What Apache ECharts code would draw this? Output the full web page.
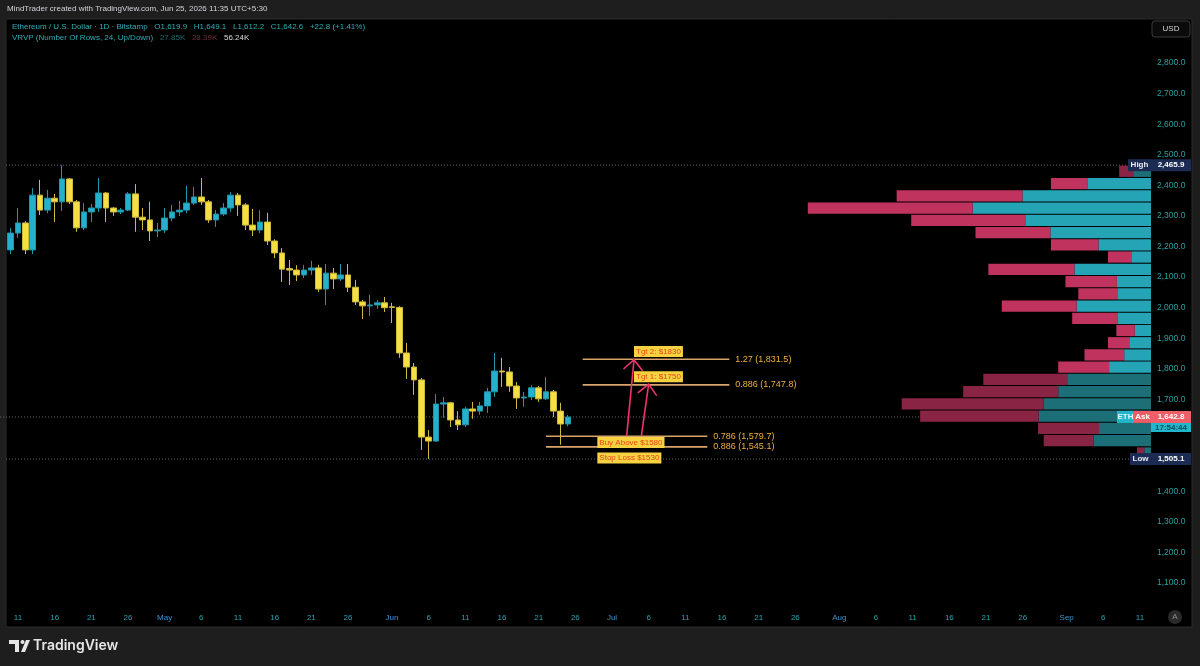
<!DOCTYPE html>
<html><head><meta charset="utf-8">
<script src="https://cdn.jsdelivr.net/npm/echarts@6/dist/echarts.min.js"></script>
<style>html,body{margin:0;padding:0;background:#1e1e1e;}#c{width:1200px;height:666px;}</style>
</head><body><div id="c"></div>
<script>
// ---------------- DATA ----------------
const startDate = [2026, 3, 10];       // Apr 10, 2026 (first candle)
const dayCount = 156;                  // visible days on the time scale (Apr 10 - Sep 12)
const labelDays = [1, 6, 11, 16, 21, 26];
const monthNames = ['Jan','Feb','Mar','Apr','May','Jun','Jul','Aug','Sep','Oct','Nov','Dec'];

const opens  = [2189,2244,2277,2189,2368,2319,2358,2346,2421,2346,2261,2313,2326,2375,2326,2313,2319,2372,2296,2287,2251,2254,2293,2313,2319,2342,2362,2346,2287,2306,2326,2368,2336,2270,2254,2280,2218,2179,2128,2123,2107,2123,2130,2061,2113,2094,2107,2067,2019,2006,2009,2016,2003,2001,1852,1806,1764,1577,1564,1685,1689,1633,1617,1669,1662,1679,1725,1793,1790,1744,1705,1708,1738,1702,1725,1662,1619.9];
const closes = [2244,2277,2189,2368,2319,2358,2346,2421,2346,2261,2313,2326,2375,2326,2313,2319,2372,2296,2287,2251,2254,2293,2313,2319,2342,2362,2346,2287,2306,2326,2368,2336,2270,2254,2280,2218,2179,2126,2123,2107,2123,2130,2061,2113,2094,2107,2067,2019,2006,2009,2016,2000,2001,1852,1806,1764,1577,1564,1685,1689,1633,1617,1669,1662,1679,1725,1793,1790,1744,1705,1708,1738,1702,1725,1662,1619.8,1642.6];
const lows   = [2175,2228,2175,2175,2303,2309,2280,2316,2339,2248,2254,2280,2313,2280,2300,2306,2316,2248,2254,2218,2231,2244,2283,2300,2309,2336,2336,2277,2264,2300,2313,2300,2254,2234,2244,2205,2162,2084,2074,2087,2097,2107,2051,2009,2061,2087,2051,2009,1963,1973,1996,1986,1950,1836,1767,1715,1535,1505.1,1561,1640,1610,1600,1610,1637,1650,1656,1708,1741,1725,1669,1676,1698,1692,1698,1643,1552,1612.2];
const highs  = [2261,2326,2283,2391,2418,2385,2372,2465.9,2424,2352,2342,2339,2424,2378,2329,2326,2378,2404,2326,2346,2277,2326,2336,2349,2398,2395,2424,2352,2319,2342,2378,2375,2342,2323,2319,2310,2224,2195,2156,2139,2140,2153,2140,2143,2130,2143,2143,2091,2025,2042,2025,2035,2016,2005,1885,1819,1770,1600,1718,1708,1692,1662,1676,1692,1692,1738,1852,1836,1806,1757,1724,1747,1744,1773,1731,1689,1649.1];

// Volume profile (VRVP, 24 rows, bottom row first), in thousands
const profileRows = 24;
const upVol   = [0.12,1.03,0.93,2.01,1.92,1.66,1.50,0.75,0.48,0.39,0.29,0.59,1.33,0.59,0.61,1.37,0.34,0.94,1.80,2.25,3.19,2.30,1.14,0.32];
const downVol = [0.13,0.89,1.09,2.12,2.54,1.70,1.50,0.91,0.71,0.38,0.33,0.82,1.34,0.71,0.92,1.54,0.43,0.85,1.34,2.04,2.95,2.25,0.65,0.25];
const valueArea = [7, 22];   // rows drawn bright

// Fibonacci levels
const fibStart = ['2026-06-27','2026-06-27','2026-06-22','2026-06-22'];
const fibEnd   = ['2026-07-17','2026-07-17','2026-07-14','2026-07-14'];
const fibRatio = ['1.27','0.886','0.786','0.886'];
const fibPrice = [1831.5, 1747.8, 1579.7, 1545.1];

// Trade labels
const noteText  = ['Tgt 2: $1830','Tgt 1: $1750','Buy Above $1580','Stop Loss $1530'];
const noteDate  = ['2026-07-04','2026-07-04','2026-06-29','2026-06-29'];
const notePrice = [1857, 1774, 1559, 1509];

// Arrows
const arrowFromDate = ['2026-07-03','2026-07-05'];
const arrowFromPrice = [1580, 1580];
const arrowToDate = ['2026-07-04','2026-07-06'];
const arrowToPrice = [1830, 1750];

const askPrice = 1642.8;
const countdown = '17:54:44';
const yTickHidden = [1500, 1600];

// ---------------- BUILD ----------------
const categories = [];
const t0 = Date.UTC(startDate[0], startDate[1], startDate[2]);
for (let i = 0; i < dayCount; i++) categories.push(new Date(t0 + i * 86400000).toISOString().slice(0, 10));
const idx = d => categories.indexOf(d);
const fmt = v => v.toLocaleString('en-US', {minimumFractionDigits: 1, maximumFractionDigits: 1});
const candleData = opens.map((o, i) => [o, closes[i], lows[i], highs[i]]);
const priceHigh = Math.max(...highs), priceLow = Math.min(...lows);
const step = (priceHigh - priceLow) / profileRows;
const profMax = Math.max(...upVol.map((u, i) => u + downVol[i]));
const upTot = upVol.reduce((a, b) => a + b, 0), dnTot = downVol.reduce((a, b) => a + b, 0);
const n = closes.length;
const chg = closes[n-1] - closes[n-2], pct = chg / closes[n-2] * 100;

const FONT = '"Liberation Sans", Arial, sans-serif';
const PANE_W = 1144;

const chart = echarts.init(document.getElementById('c'));
const option = {
  backgroundColor: '#1e1e1e',
  animation: false,
  grid: [
    {left: 7, width: PANE_W, top: 1.8, height: 611.8},
    {left: 7 + PANE_W * 0.7, width: PANE_W * 0.3, top: 1.8, height: 611.8}
  ],
  xAxis: [
    {type: 'category', gridIndex: 0, data: categories, boundaryGap: true,
     axisLine: {show: false}, axisTick: {show: false}, splitLine: {show: false},
     axisLabel: {
       interval: (i, v) => labelDays.includes(+v.slice(8)),
       margin: 0,
       formatter: v => { const d = +v.slice(8); return d === 1 ? '{m|' + monthNames[+v.slice(5, 7) - 1] + '}' : '{d|' + d + '}'; },
       rich: {m: {color: '#3b93d4', fontSize: 8, fontFamily: FONT}, d: {color: '#2aa2b2', fontSize: 8, fontFamily: FONT}}
     }},
    {type: 'value', gridIndex: 1, inverse: true, min: 0, max: profMax, show: false}
  ],
  yAxis: [
    {type: 'value', gridIndex: 0, position: 'right', min: 1000, max: 3000, interval: 100,
     splitLine: {show: false}, axisLine: {show: false}, axisTick: {show: false},
     axisLabel: {color: '#2ba09f', fontSize: 8.5, fontFamily: FONT, margin: 6, align: 'left',
       formatter: v => (v < 1100 || v > 2800 || yTickHidden.includes(v)) ? '' : fmt(v)}},
    {type: 'value', gridIndex: 1, min: 1000, max: 3000, show: false}
  ],
  series: [
    // dotted price lines
    {type: 'custom', xAxisIndex: 0, yAxisIndex: 0, z: 1, silent: true,
     data: [[0, priceHigh, 0], [0, priceLow, 1], [0, closes[n-1], 2]],
     encode: {x: 0, y: 1},
     renderItem(params, api) {
       const y = api.coord([0, api.value(1)])[1];
       const k = api.value(2);
       const right = params.coordSys.x + params.coordSys.width;
       const endX = right - (k === 0 ? 23 : k === 1 ? 21 : 34);
       return {type: 'line', shape: {x1: k === 2 ? 0 : params.coordSys.x - 1, y1: y, x2: endX, y2: y},
               style: {stroke: '#63666d', lineWidth: 1, lineDash: [1, 2]}};
     }},
    // volume profile
    {type: 'custom', xAxisIndex: 1, yAxisIndex: 1, z: 2, silent: true,
     data: upVol.map((u, i) => [i, u, downVol[i]]),
     renderItem(params, api) {
       const i = api.value(0), up = api.value(1), dn = api.value(2);
       const lo = priceLow + i * step, hi = lo + step;
       const a = api.coord([0, lo]), b = api.coord([up, hi]), c = api.coord([up + dn, hi]);
       const va = i >= valueArea[0] && i <= valueArea[1];
       const top = b[1] + 0.5, h = a[1] - b[1] - 1;
       return {type: 'group', children: [
         {type: 'rect', shape: {x: b[0], y: top, width: a[0] - b[0], height: h}, style: {fill: va ? '#25a4b6' : '#1c6f76'}},
         {type: 'rect', shape: {x: c[0], y: top, width: b[0] - c[0], height: h}, style: {fill: va ? '#c0335f' : '#8a2444'}}
       ]};
     }},
    // candles
    {type: 'candlestick', xAxisIndex: 0, yAxisIndex: 0, z: 3, data: candleData, barWidth: '80%',
     itemStyle: {color: '#24b1cb', color0: '#f6df45', borderColor: '#1f96ab', borderColor0: '#cdb93a', borderWidth: 1}},
    // fib levels
    {type: 'custom', xAxisIndex: 0, yAxisIndex: 0, z: 4, silent: true,
     data: fibPrice.map((p, i) => [idx(fibStart[i]), idx(fibEnd[i]), p, i]),
     encode: {x: [0, 1], y: 2},
     renderItem(params, api) {
       const p = api.value(2), i = api.value(3);
       const a = api.coord([api.value(0), p]), b = api.coord([api.value(1), p]);
       return {type: 'group', children: [
         {type: 'line', shape: {x1: a[0], y1: a[1], x2: b[0], y2: b[1]}, style: {stroke: '#d8a66a', lineWidth: 1.6}},
         {type: 'text', x: b[0] + 6, y: b[1], style: {text: fibRatio[i] + ' (' + fmt(p) + ')', fill: '#eeb13e', font: '9px ' + FONT, align: 'left', verticalAlign: 'middle'}}
       ]};
     }},
    // arrows
    {type: 'custom', xAxisIndex: 0, yAxisIndex: 0, z: 5, silent: true,
     data: arrowFromDate.map((d, i) => [idx(d), arrowFromPrice[i], idx(arrowToDate[i]), arrowToPrice[i]]),
     encode: {x: [0, 2], y: [1, 3]},
     renderItem(params, api) {
       const a = api.coord([api.value(0), api.value(1)]), b = api.coord([api.value(2), api.value(3)]);
       const ang = Math.atan2(a[1] - b[1], a[0] - b[0]);
       const L = 14, th = 0.75;
       const w1 = [b[0] + L * Math.cos(ang + th), b[1] + L * Math.sin(ang + th)];
       const w2 = [b[0] + L * Math.cos(ang - th), b[1] + L * Math.sin(ang - th)];
       return {type: 'group', children: [
         {type: 'line', shape: {x1: a[0], y1: a[1], x2: b[0], y2: b[1]}, style: {stroke: '#ef336c', lineWidth: 1.6}},
         {type: 'polyline', shape: {points: [w1, b, w2]}, style: {stroke: '#ef336c', lineWidth: 1.6, fill: null}}
       ]};
     }},
    // trade labels
    {type: 'custom', xAxisIndex: 0, yAxisIndex: 0, z: 6, silent: true,
     data: noteText.map((t, i) => [idx(noteDate[i]), notePrice[i], i]),
     encode: {x: 0, y: 1},
     renderItem(params, api) {
       const c = api.coord([api.value(0), api.value(1)]);
       return {type: 'text', x: c[0], y: c[1], style: {text: noteText[api.value(2)], fill: '#e5471d', backgroundColor: '#f6d240',
               padding: [2, 2, 1, 2], font: '8px ' + FONT, align: 'left', verticalAlign: 'middle'}};
     }},
    // price tags
    {type: 'custom', xAxisIndex: 0, yAxisIndex: 0, z: 10, silent: true,
     data: [[0, priceHigh, 0], [0, priceLow, 1], [0, askPrice, 2]],
     encode: {x: 0, y: 1},
     renderItem(params, api) {
       const price = api.value(1), k = api.value(2);
       const y = api.coord([0, price])[1];
       const r = params.coordSys.x + params.coordSys.width;
       const box = (x, w, fill, text, color, yy, hh) => [
         {type: 'rect', shape: {x: x, y: (yy === undefined ? y - 6 : yy), width: w, height: hh || 12}, style: {fill: fill}},
         {type: 'text', x: x + w / 2, y: (yy === undefined ? y : yy + (hh || 12) / 2), style: {text: text, fill: color, font: 'bold 8px ' + FONT, align: 'center', verticalAlign: 'middle'}}
       ];
       let ch = [];
       if (k === 0) ch = box(r - 23, 23, '#1c2b52', 'High', '#e8ecf5').concat(box(r, 40, '#1c2b52', fmt(price), '#ffffff'));
       else if (k === 1) ch = box(r - 21, 21, '#1c2b52', 'Low', '#e8ecf5').concat(box(r, 40, '#1c2b52', fmt(price), '#ffffff'));
       else ch = box(r - 34, 17, '#22b6cc', 'ETH', '#dff7fb').concat(box(r - 17, 17, '#ef5a66', 'Ask', '#ffffff'))
               .concat(box(r, 40, '#ef5f69', fmt(price), '#ffffff')).concat(box(r, 40, '#22b6cc', countdown, '#0d4f5a', y + 6, 9));
       return {type: 'group', children: ch};
     }}
  ],
  graphic: [
    {type: 'rect', z: -100, silent: true, shape: {x: 6, y: 19, width: 1186, height: 608}, style: {fill: '#000000', stroke: '#2b2b2b', lineWidth: 1}},
    {type: 'text', z: 100, x: 7, y: 9, style: {text: 'MindTrader created with TradingView.com, Jun 25, 2026 11:35 UTC+5:30', fill: '#d3d5db', font: '8px ' + FONT, verticalAlign: 'middle'}},
    {type: 'text', z: 100, x: 12, y: 27, style: {
      text: '{a|Ethereum / U.S. Dollar · 1D · Bitstamp}  {a|O' + fmt(opens[n-1]) + '}  {a|H' + fmt(highs[n-1]) + '}  {a|L' + fmt(lows[n-1]) + '}  {a|C' + fmt(closes[n-1]) + '}  {a|+' + chg.toFixed(1) + ' (+' + pct.toFixed(2) + '%)}',
      verticalAlign: 'middle',
      rich: {a: {fill: '#31adb4', fontSize: 8, fontFamily: FONT}}}},
    {type: 'text', z: 100, x: 12, y: 38, style: {
      text: '{a|VRVP (Number Of Rows, ' + profileRows + ', Up/Down)}  {b|' + upTot.toFixed(2) + 'K}  {c|' + dnTot.toFixed(2) + 'K}  {d|' + (upTot + dnTot).toFixed(2) + 'K}',
      verticalAlign: 'middle',
      rich: {a: {fill: '#31adb4', fontSize: 8, fontFamily: FONT}, b: {fill: '#1e6e70', fontSize: 8, fontFamily: FONT},
             c: {fill: '#742a38', fontSize: 8, fontFamily: FONT}, d: {fill: '#dcdcdc', fontSize: 8, fontFamily: FONT}}}},
    {type: 'rect', z: 100, shape: {x: 1152, y: 21, width: 38, height: 16, r: 3}, style: {fill: '#0b0b0b', stroke: '#3a3a3a', lineWidth: 1}},
    {type: 'text', z: 101, x: 1171, y: 29, style: {text: 'USD', fill: '#d8d8d8', font: '8px ' + FONT, align: 'center', verticalAlign: 'middle'}},
    {type: 'circle', z: 100, shape: {cx: 1175, cy: 617, r: 7}, style: {fill: '#2a2a2a'}},
    {type: 'text', z: 101, x: 1175, y: 617, style: {text: 'A', fill: '#8d8d8d', font: '8px ' + FONT, align: 'center', verticalAlign: 'middle'}},
    // TradingView logo
    {type: 'polygon', z: 100, shape: {points: [[9, 640], [19, 640], [19, 652], [15, 652], [15, 644], [9, 644]]}, style: {fill: '#e6e6e6'}},
    {type: 'circle', z: 100, shape: {cx: 22.5, cy: 642, r: 2}, style: {fill: '#e6e6e6'}},
    {type: 'polygon', z: 100, shape: {points: [[21, 652], [26, 640], [30, 640], [25, 652]]}, style: {fill: '#e6e6e6'}},
    {type: 'text', z: 100, x: 33, y: 646, style: {text: 'TradingView', fill: '#e6e6e6', font: '600 14px Inter, ' + FONT, verticalAlign: 'middle'}}
  ]
};
chart.setOption(option);
</script>
</body></html>
